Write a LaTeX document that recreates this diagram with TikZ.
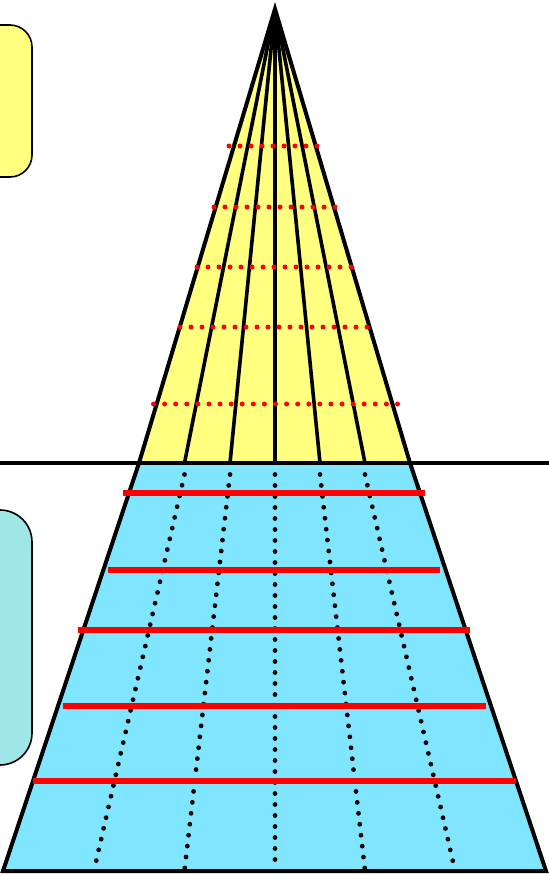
\documentclass[tikz,border=0pt]{standalone}
\definecolor{fanyellow}{HTML}{FFFF80}
\definecolor{seablue}{HTML}{80E5FF}
\definecolor{boxteal}{HTML}{A0E6E6}
\tikzset{
  sidebox/.style={draw=black, line width=1.6pt},
  fanline/.style={line width=3.6pt, line cap=butt},
  reddots/.style={red, line width=5pt, line cap=round, dash pattern=on 0pt off 11pt},
  blackdots/.style={black, line width=4.8pt, line cap=round, dash pattern=on 0pt off 11pt},
  redbar/.style={red, line width=5.5pt},
  edgeline/.style={line width=4pt, line join=miter}
}
\begin{document}
\begin{tikzpicture}[x=1pt,y=-1pt]
\useasboundingbox (0,0) rectangle (549,876);
\coordinate (apex) at (275,9);
\coordinate (hl) at (139,463);
\coordinate (hr) at (410,463);
\coordinate (bl) at (3,871);
\coordinate (br) at (546,871);
% side boxes
\draw[sidebox, fill=fanyellow, rounded corners=22pt] (-40,25) rectangle (32,177);
\draw[sidebox, fill=boxteal, rounded corners=32pt] (-50,510) rectangle (32,765);
% blue trapezoid
\fill[seablue] (hl) -- (hr) -- (br) -- (bl) -- cycle;
\foreach \a/\b in {184.5/94, 230/184.5, 275/275, 320/365, 365/455}
  \draw[blackdots] (\a,474.5) -- (\b,870.5);
\draw[edgeline] (hl) -- (bl) -- (br) -- (hr);
\foreach \y/\l/\r in {493/123/425, 570/108/440, 630/78/470, 706/63/486, 781/33/516}
  \draw[redbar] (\l,\y) -- (\r,\y);
% yellow fan
\fill[fanyellow] (apex) -- (hl) -- (hr) -- cycle;
\foreach \x in {184.5, 230, 275, 320, 365}
  \draw[fanline] (apex) -- (\x,463);
\draw[edgeline] (hl) -- (apex) -- (hr);
\foreach \y/\l/\r/\s in {146/229/317.5/11, 207/214/335.5/11, 267/197/351.5/11, 327/180/367.5/11, 404/153.5/398/11.09}
  \draw[reddots, dash pattern=on 0pt off \s pt] (\l,\y) -- (\r,\y);
% horizon
\draw[line width=4.5pt] (0,463) -- (549,463);
\end{tikzpicture}
\end{document}
